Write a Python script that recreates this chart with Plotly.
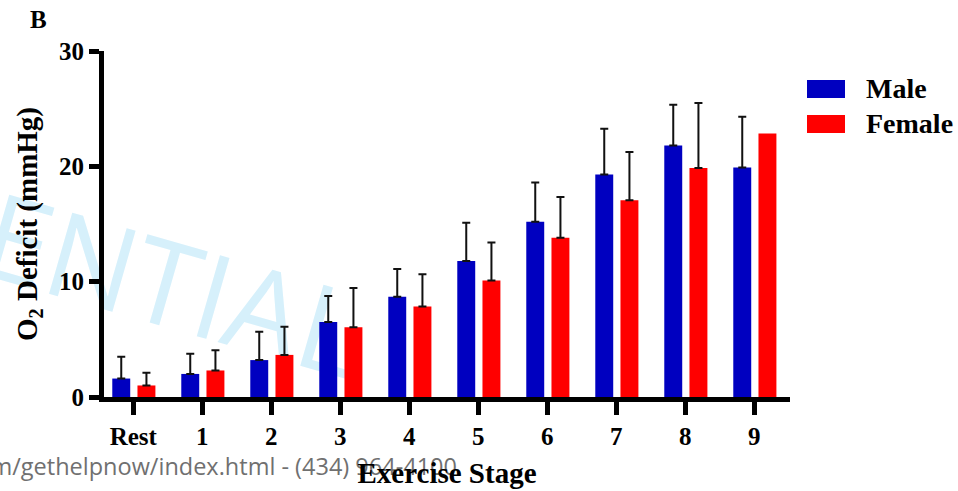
import plotly.graph_objects as go

# ---- data ----
stages = ["Rest", "1", "2", "3", "4", "5", "6", "7", "8", "9"]
male_mean = [1.6, 2.0, 3.2, 6.5, 8.7, 11.8, 15.2, 19.3, 21.8, 19.9]
male_sd = [1.9, 1.75, 2.45, 2.25, 2.4, 3.3, 3.4, 3.95, 3.55, 4.4]
female_mean = [1.0, 2.3, 3.65, 6.05, 7.85, 10.1, 13.8, 17.05, 19.85, 22.85]
female_sd = [1.1, 1.75, 2.45, 3.4, 2.8, 3.3, 3.55, 4.2, 5.65]  # stage 9: no error bar
y_ticks = [0, 10, 20, 30]

W, H = 958, 491
L, R, T, B = 104, 790, 51, 397

def px(x):
    return (x - L) / (R - L)

def py(y):
    return 1 - (y - T) / (B - T)

SERIF = "Liberation Serif, Times New Roman, serif"
SANS = "Open Sans, Noto Sans, sans-serif"

fig = go.Figure()
fig.add_trace(go.Bar(
    x=stages, y=male_mean, name="Male",
    marker=dict(color="#0000C0", line=dict(width=0)),
    width=0.26, offset=-0.305,
    error_y=dict(type="data", symmetric=False, array=male_sd,
                 arrayminus=[0] * len(male_sd),
                 color="#111111", thickness=2, width=4),
    showlegend=False,
))
fig.add_trace(go.Bar(
    x=stages, y=female_mean, name="Female",
    marker=dict(color="#FF0000", line=dict(width=0)),
    width=0.26, offset=0.06,
    error_y=dict(type="data", symmetric=False, array=female_sd,
                 arrayminus=[0] * len(female_sd),
                 color="#111111", thickness=2, width=4),
    showlegend=False,
))

shapes = []
annotations = []

# watermark (behind the data)
cx, cy = 172, 290
shapes.append(dict(
    type="rect", xref="paper", yref="paper", layer="below",
    x0=px(cx - 5), x1=px(cx + 5), y0=py(cy + 5), y1=py(cy - 5),
    line=dict(width=0), fillcolor="rgba(0,0,0,0)",
    label=dict(text="ENTIAL", textposition="middle center", textangle=16,
               font=dict(family=SANS, size=118, color="rgb(214,240,251)")),
))
# bottom page text (behind the axis title)
shapes.append(dict(
    type="rect", xref="paper", yref="paper", layer="below",
    x0=px(-300), x1=px(460), y0=py(480), y1=py(454),
    line=dict(width=0), fillcolor="rgba(0,0,0,0)",
    label=dict(text="m/gethelpnow/index.html - (434) 964-4100",
               textposition="middle right", padding=0,
               font=dict(family=SANS, size=23.5, color="#707070")),
))

# legend built by hand (wide swatches)
legend_items = [("Male", "#0000C0", 80, 98), ("Female", "#FF0000", 115, 133)]
for name, col, y0, y1 in legend_items:
    shapes.append(dict(type="rect", xref="paper", yref="paper",
                       x0=px(807), x1=px(845), y0=py(y1), y1=py(y0),
                       line=dict(width=0), fillcolor=col))
    annotations.append(dict(text=name, xref="paper", yref="paper",
                            x=px(864), y=py((y0 + y1) / 2 - 1),
                            xanchor="left", yanchor="middle", showarrow=False,
                            font=dict(family=SERIF, size=28, color="black",
                                      weight="bold")))

annotations.append(dict(text="B", xref="paper", yref="paper",
                        x=px(38), y=py(19), xanchor="center", yanchor="middle",
                        showarrow=False,
                        font=dict(family=SERIF, size=25, color="black",
                                  weight="bold")))

fig.update_layout(
    width=W, height=H,
    margin=dict(l=L, r=W - R, t=T, b=H - B, pad=0),
    paper_bgcolor="white", plot_bgcolor="white",
    barmode="overlay",
    shapes=shapes, annotations=annotations,
    showlegend=False,
    font=dict(family=SERIF, color="black"),
)
fig.update_xaxes(
    type="category", categoryorder="array", categoryarray=stages,
    range=[-0.425, 9.517], automargin=False,
    showline=True, linecolor="black", linewidth=5,
    ticks="outside", ticklen=13, tickwidth=5, tickcolor="black",
    tickfont=dict(family=SERIF, size=25, color="black", weight="bold"),
    showgrid=False, zeroline=False,
    title=dict(text="Exercise Stage", standoff=15,
               font=dict(family=SERIF, size=29, color="black", weight="bold")),
)
fig.update_yaxes(
    range=[0, 30], tickvals=y_ticks, ticktext=[str(v) for v in y_ticks],
    automargin=False,
    showline=True, linecolor="black", linewidth=5,
    ticks="outside", ticklen=10, tickwidth=5, tickcolor="black",
    tickfont=dict(family=SERIF, size=25, color="black", weight="bold"),
    showgrid=False, zeroline=False,
    title=dict(text="O<sub>2</sub> Deficit (mmHg)", standoff=14,
               font=dict(family=SERIF, size=29, color="black", weight="bold")),
)

fig.write_html("out.html", config={"displayModeBar": False},
               post_script="document.body.style.margin='0';document.body.style.overflow='hidden';")
